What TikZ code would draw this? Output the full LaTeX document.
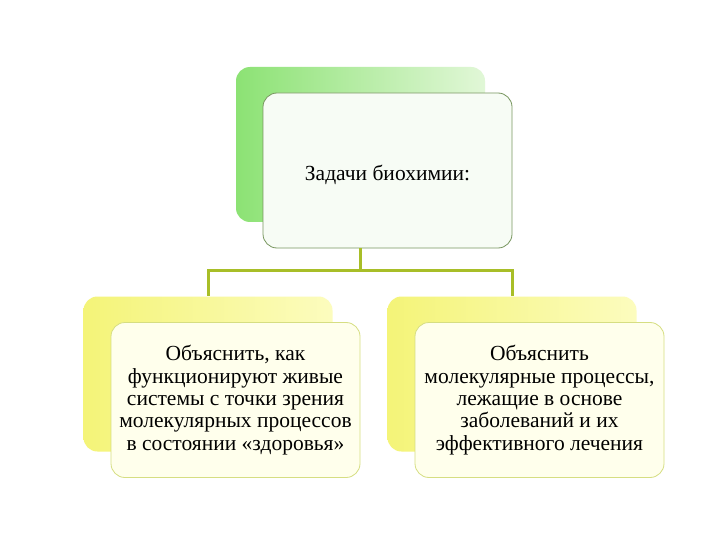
\documentclass[tikz,border=0pt]{standalone}
\usepackage{fontspec}
\setmainfont{Liberation Serif}
\usetikzlibrary{positioning}
\definecolor{greenA}{RGB}{140,226,116}
\definecolor{greenB}{RGB}{225,247,215}
\definecolor{yellowA}{RGB}{244,244,120}
\definecolor{yellowB}{RGB}{252,252,190}
\definecolor{ivory}{RGB}{255,255,236}
\definecolor{topfill}{RGB}{247,252,245}
\definecolor{topline}{RGB}{120,150,95}
\definecolor{boxline}{RGB}{214,222,130}
\definecolor{linkcol}{RGB}{168,190,40}
\tikzset{
  backbox/.style={rectangle,rounded corners=14pt,minimum width=249pt,minimum height=155pt,inner sep=0pt},
  frontbox/.style={rectangle,rounded corners=14pt,minimum width=249pt,minimum height=155pt,draw,line width=0.8pt,align=center,inner sep=0pt,font=\fontsize{21.5}{22.3}\selectfont},
  link/.style={draw=linkcol,line width=3pt}
}
\begin{document}
\begin{tikzpicture}[x=1pt,y=-1pt]
\useasboundingbox[fill=white](0,0)rectangle(720,540);
%top box
\node[backbox,left color=greenA,right color=greenB]at(360.5,144.5)(taskback){};
\node[frontbox,draw=topline,fill=topfill]at(387.5,170.5)(task){\raisebox{-4pt}[\height][\depth]{Задачи биохимии:}};
%bottom boxes
\node[backbox,left color=yellowA,right color=yellowB]at(208,374)(leftback){};
\node[backbox,left color=yellowA,right color=yellowB]at(512,374)(rightback){};
%connectors
\coordinate(fork)at(360,270);
\draw[link](task.south-|fork)--(fork);
\draw[link](fork)-|(leftback.north);
\draw[link](fork)-|(rightback.north);
\node[frontbox,draw=boxline,fill=ivory]at(235.5,400)(health){Объяснить, как\\функционируют живые\\системы с точки зрения\\молекулярных процессов\\в состоянии «здоровья»};
\node[frontbox,draw=boxline,fill=ivory]at(539.5,400)(disease){Объяснить\\молекулярные процессы,\\лежащие в основе\\заболеваний и их\\эффективного лечения};
\end{tikzpicture}
\end{document}
